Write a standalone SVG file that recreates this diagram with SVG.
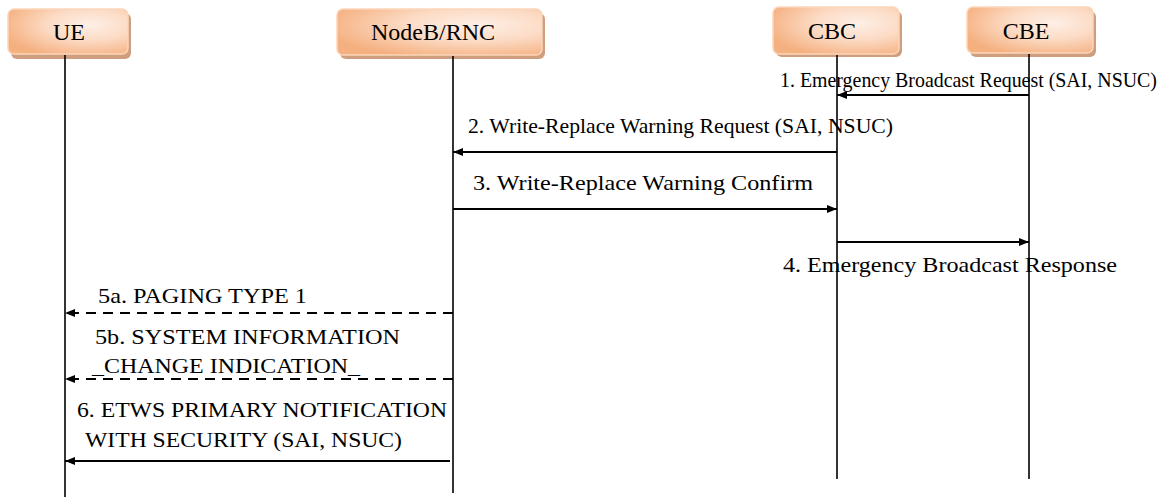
<svg xmlns="http://www.w3.org/2000/svg" width="1163" height="499" viewBox="0 0 1163 499">
<style>
.box{fill:url(#g);stroke:#fbd6bb;stroke-width:1.5}
.shadow{fill:#cf9e7e}
.lbl{font-family:"Liberation Serif","Times New Roman",serif;font-size:24px;fill:#000;text-anchor:middle}
.msg{font-family:"Liberation Serif","Times New Roman",serif;font-size:22px;fill:#000}
.life{stroke:#000;stroke-width:1.6;fill:none}
.arr{stroke:#000;stroke-width:2;fill:none;marker-end:url(#ah)}
.dash{stroke-dasharray:10 7}
</style>
<defs>
<radialGradient id="g" cx="0.68" cy="0.35" r="0.75" fx="0.68" fy="0.35">
<stop offset="0" stop-color="#fdefe6"/>
<stop offset="0.45" stop-color="#fcdcc6"/>
<stop offset="1" stop-color="#f5b080"/>
</radialGradient>
<marker id="ah" viewBox="0 0 10 8" refX="10" refY="4" markerWidth="10" markerHeight="8" markerUnits="userSpaceOnUse" orient="auto">
<path d="M0,0 L10,4 L0,8 Z" fill="#000"/>
</marker>
</defs>
<rect width="1163" height="499" fill="#fff"/>
<g id="UE">
<rect class="shadow" x="11" y="13" width="120" height="46" rx="6"/>
<rect class="box" x="8" y="9" width="120" height="45" rx="6"/>
<text class="lbl" x="69" y="40">UE</text>
</g>
<g id="NodeB_RNC">
<rect class="shadow" x="340" y="13" width="205" height="46" rx="6"/>
<rect class="box" x="337" y="9" width="205" height="46" rx="6"/>
<text class="lbl" x="433" y="40">NodeB/RNC</text>
</g>
<g id="CBC">
<rect class="shadow" x="776" y="11" width="126" height="46" rx="6"/>
<rect class="box" x="773" y="7" width="126" height="47" rx="6"/>
<text class="lbl" x="832" y="39">CBC</text>
</g>
<g id="CBE">
<rect class="shadow" x="970" y="11" width="126" height="46" rx="6"/>
<rect class="box" x="967" y="7" width="126" height="46" rx="6"/>
<text class="lbl" x="1026" y="39">CBE</text>
</g>
<g id="lifelines">
<line class="life" x1="65" y1="55" x2="65" y2="497"/>
<line class="life" x1="453" y1="56" x2="453" y2="493"/>
<line class="life" x1="837" y1="55" x2="837" y2="479"/>
<line class="life" x1="1029" y1="54" x2="1029" y2="479"/>
</g>
<g id="connectors">
<line class="arr" x1="1029" y1="95" x2="837" y2="95"/>
<line class="arr" x1="837" y1="152" x2="453" y2="152"/>
<line class="arr" x1="453" y1="209" x2="837" y2="209"/>
<line class="arr" x1="837" y1="242" x2="1029" y2="242"/>
<line class="arr dash" x1="453" y1="313" x2="65" y2="313"/>
<line class="arr dash" x1="453" y1="379" x2="65" y2="379"/>
<line class="arr" x1="450" y1="461" x2="65" y2="461"/>
</g>
<g id="labels">
<text class="msg" x="780" y="87" textLength="377" lengthAdjust="spacingAndGlyphs">1. Emergency Broadcast Request (SAI, NSUC)</text>
<text class="msg" x="468" y="133" textLength="425" lengthAdjust="spacingAndGlyphs">2. Write-Replace Warning Request (SAI, NSUC)</text>
<text class="msg" x="473" y="190" textLength="340" lengthAdjust="spacingAndGlyphs">3. Write-Replace Warning Confirm</text>
<text class="msg" x="783" y="272" textLength="334" lengthAdjust="spacingAndGlyphs">4. Emergency Broadcast Response</text>
<text class="msg" x="98" y="303" textLength="209" lengthAdjust="spacingAndGlyphs">5a. PAGING TYPE 1</text>
<text class="msg" x="95" y="344" textLength="305" lengthAdjust="spacingAndGlyphs">5b. SYSTEM INFORMATION</text>
<text class="msg" x="92" y="373" textLength="268" lengthAdjust="spacingAndGlyphs">_CHANGE INDICATION_</text>
<text class="msg" x="77" y="417" textLength="370" lengthAdjust="spacingAndGlyphs">6. ETWS PRIMARY NOTIFICATION</text>
<text class="msg" x="85" y="447" textLength="317" lengthAdjust="spacingAndGlyphs">WITH SECURITY (SAI, NSUC)</text>
</g>
</svg>
